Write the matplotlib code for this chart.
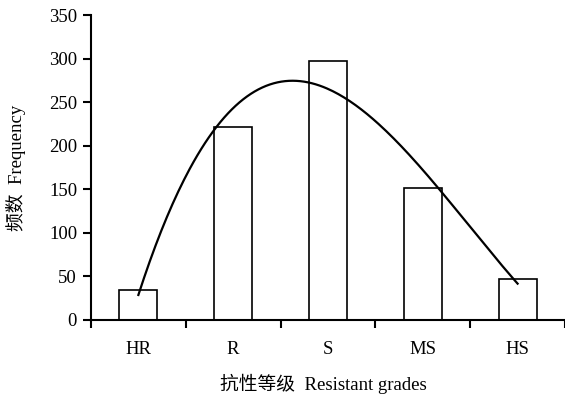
import numpy as np
import matplotlib.pyplot as plt

plt.rcParams['font.family'] = ['Liberation Serif', 'Noto Sans CJK SC']

grades = ["HR", "R", "S", "MS", "HS"]
frequency = [34, 222, 297, 151, 47]

x = np.arange(1, len(grades) + 1)

fig = plt.figure(figsize=(5.65, 3.96), dpi=100)
ax = fig.add_axes([0.161, 0.192, 0.839, 0.770])

ax.bar(x, frequency, width=0.4, color="white", edgecolor="black", linewidth=1.2, zorder=2)

# cubic trendline through the bar counts
coef = np.polyfit(x, frequency, 3)
xs = np.linspace(1, 5, 200)
ax.plot(xs, np.polyval(coef, xs), color="black", linewidth=1.6, zorder=3)

ax.set_xlim(0.5, 5.5)
ax.set_ylim(0, 350)
ax.set_yticks(range(0, 351, 50))

# ticks sit between the grades, labels under each bar
ax.set_xticks(np.arange(0.5, 5.6, 1))
ax.set_xticklabels([])
ax.set_xticks(x, minor=True)
ax.set_xticklabels(grades, minor=True)
ax.tick_params(axis="x", which="minor", length=0, pad=15, labelsize=13.5)
ax.tick_params(axis="x", which="major", length=6, width=1.5, direction="out")
ax.tick_params(axis="y", length=6, width=1.5, direction="out", labelsize=13.5, pad=4)

for side in ["top", "right"]:
    ax.spines[side].set_visible(False)
for side in ["left", "bottom"]:
    ax.spines[side].set_linewidth(1.5)

ax.set_xlabel("抗性等级  Resistant grades", fontsize=13.5)
ax.xaxis.set_label_coords(0.49, -0.175)
ax.set_ylabel("频数  Frequency", fontsize=13.5)
ax.yaxis.set_label_coords(-0.137, 0.5)

fig.savefig("out.png", dpi=100)
